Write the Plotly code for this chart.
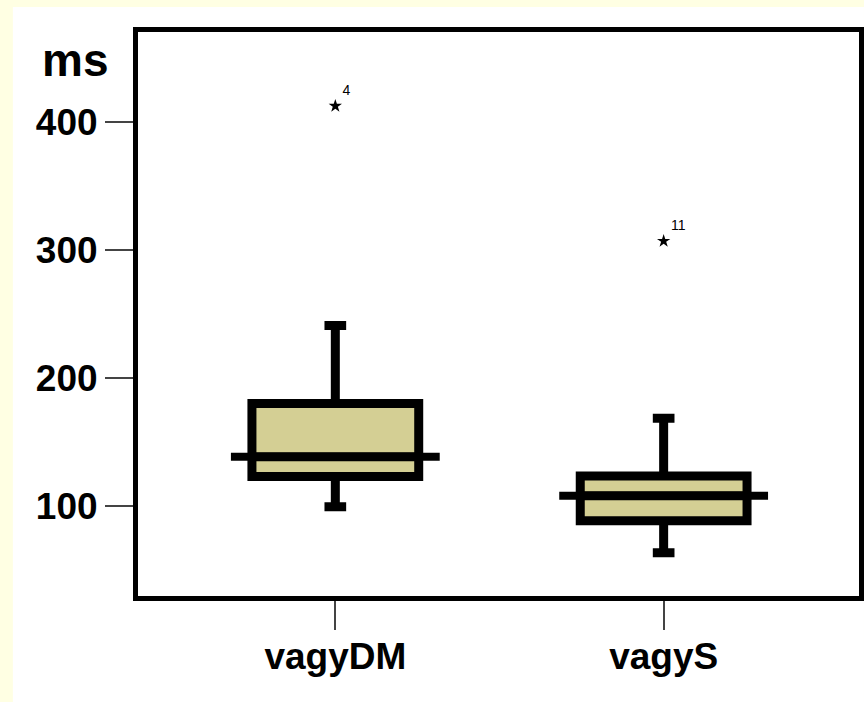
import plotly.graph_objects as go

# Reaction times (ms) per condition
categories = ["vagyDM", "vagyS"]
q1 = [123, 88.5]
median = [138.5, 108]
q3 = [180, 123.5]
lower_whisker = [99.5, 63.5]
upper_whisker = [241, 168.5]

# Extreme values flagged with their case numbers
outlier_x = ["vagyDM", "vagyS"]
outlier_y = [412.5, 307]
outlier_case = ["4", "11"]

y_tickvals = [100, 200, 300, 400]

W, H = 864, 702
L, R, T, B = 138, 0, 32, 106
PW, PH = W - L - R, H - T - B

FONT = "Arial, Liberation Sans, sans-serif"
pos = {c: i for i, c in enumerate(categories)}

fig = go.Figure()

fig.add_trace(go.Box(
    x=[pos[c] for c in categories],
    q1=q1, median=median, q3=q3,
    lowerfence=lower_whisker, upperfence=upper_whisker,
    width=0.508, whiskerwidth=0.13,
    fillcolor="#D4CF94",
    line=dict(color="black", width=9),
    boxpoints=False, hoverinfo="skip", showlegend=False,
))

# Median bars reaching past the box edges
half = 0.318
for c, m in zip(categories, median):
    fig.add_shape(type="line", xref="x", yref="y",
                  x0=pos[c] - half, x1=pos[c] + half, y0=m, y1=m,
                  line=dict(color="black", width=8), layer="above")

fig.add_trace(go.Scatter(
    x=[pos[c] for c in outlier_x], y=outlier_y,
    mode="markers+text",
    marker=dict(symbol="star", size=10, color="black"),
    text=outlier_case, textposition="top right",
    textfont=dict(family=FONT, size=14, color="black"),
    hoverinfo="skip", showlegend=False,
))

# Page background with a light yellow border strip on the left and top
fig.add_shape(type="rect", xref="paper", yref="paper",
              x0=(12 - L) / PW, x1=(W - L + 5) / PW,
              y0=-(H - T - PH + 5) / PH, y1=(PH + T - 7) / PH,
              fillcolor="white", line=dict(width=0), layer="below")

fig.add_annotation(text="<b>ms</b>", xref="paper", yref="paper",
                   x=(75 - L) / PW, y=(PH + T - 60) / PH,
                   xanchor="center", yanchor="middle", showarrow=False,
                   font=dict(family=FONT, size=46, color="black"))

fig.update_xaxes(
    range=[-0.601, 1.595],
    tickvals=list(range(len(categories))),
    ticktext=[f"<b>{c}</b>" for c in categories],
    showline=True, linecolor="black", linewidth=5, mirror=True,
    ticks="outside", ticklen=29, tickwidth=1.5, tickcolor="#444",
    showgrid=False, zeroline=False, ticklabelstandoff=-5,
    tickfont=dict(family=FONT, size=37, color="black"),
)
fig.update_yaxes(
    range=[29.7, 470.3],
    tickvals=y_tickvals,
    ticktext=[f"<b>{v}</b>" for v in y_tickvals],
    showline=True, linecolor="black", linewidth=5, mirror=True,
    ticks="outside", ticklen=28, tickwidth=1.5, tickcolor="#444",
    showgrid=False, zeroline=False,
    tickfont=dict(family=FONT, size=37, color="black"),
)

fig.update_layout(
    width=W, height=H,
    margin=dict(l=L, r=R, t=T, b=B),
    paper_bgcolor="#FFFFE3", plot_bgcolor="white",
)

fig.write_html("out.html")
